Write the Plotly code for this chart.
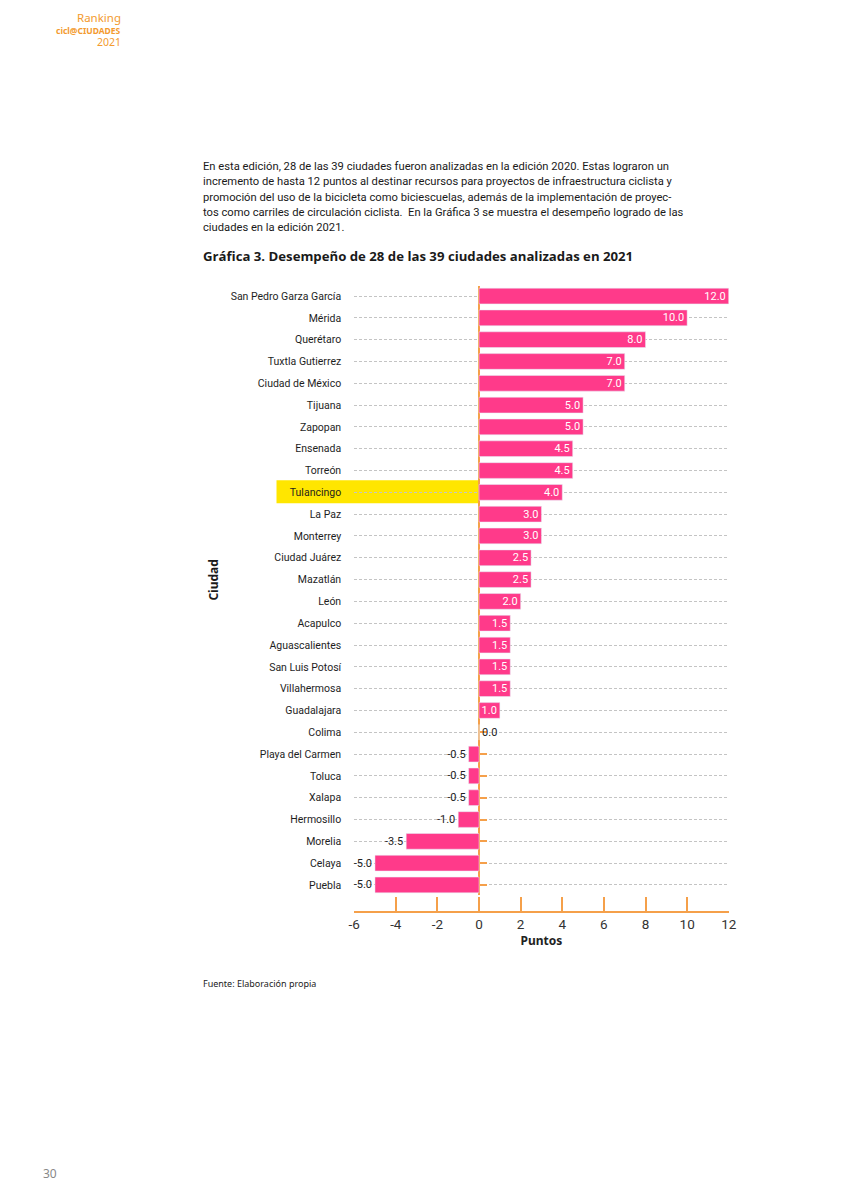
import plotly.graph_objects as go

ciudades = ["San Pedro Garza García", "Mérida", "Querétaro", "Tuxtla Gutierrez",
            "Ciudad de México", "Tijuana", "Zapopan", "Ensenada", "Torreón",
            "Tulancingo", "La Paz", "Monterrey", "Ciudad Juárez", "Mazatlán",
            "León", "Acapulco", "Aguascalientes", "San Luis Potosí", "Villahermosa",
            "Guadalajara", "Colima", "Playa del Carmen", "Toluca", "Xalapa",
            "Hermosillo", "Morelia", "Celaya", "Puebla"]
puntos = [12.0, 10.0, 8.0, 7.0, 7.0, 5.0, 5.0, 4.5, 4.5, 4.0, 3.0, 3.0, 2.5, 2.5,
          2.0, 1.5, 1.5, 1.5, 1.5, 1.0, 0.0, -0.5, -0.5, -0.5, -1.0, -3.5, -5.0, -5.0]
x_ticks = [-6, -4, -2, 0, 2, 4, 6, 8, 10, 12]
x_ticktext = ["-6", "-4", "-2", "0", "2", "4", "6", "8", "10", "12"]

PINK = "#ff3a8a"
ORANGE = "#f5a04a"
OFF = 8               # page body margin
W, H = 848 - 2 * OFF, 1200 - 2 * OFF


def px(x):
    return (x - OFF) / W


def py(y):
    return 1 - (y - OFF) / H


x0d, x1d = px(354), px(735)
ydom = [py(895), py(286)]
zero_pos = x0d + (0 - x_ticks[0]) / (x_ticks[-1] - x_ticks[0]) * (x1d - x0d)

textpos = ["inside" if v > 0 else "outside" for v in puntos]
textcol = ["white" if v > 0 else "#222222" for v in puntos]

fig = go.Figure()
fig.add_trace(go.Bar(
    x=puntos, y=ciudades, orientation="h", marker_color=PINK, width=0.72,
    text=[f"{v:.1f}" for v in puntos], textposition=textpos, constraintext="none",
    insidetextanchor="end", textfont=dict(size=11, color=textcol, family="Roboto, sans-serif"),
    cliponaxis=False, showlegend=False, hoverinfo="skip",
))
# invisible trace for the y axis placed at x = 0 (ticks at each category)
fig.add_trace(go.Scatter(x=[0] * len(ciudades), y=ciudades, yaxis="y2", mode="markers",
                         marker=dict(opacity=0), showlegend=False, hoverinfo="skip"))

fig.update_layout(
    width=W, height=H, margin=dict(l=0, r=0, t=0, b=0),
    paper_bgcolor="white", plot_bgcolor="white",
    font=dict(family="Roboto, sans-serif", color="#222"),
    xaxis=dict(domain=[x0d, x1d], range=[-6, 12], tickvals=x_ticks, ticktext=x_ticktext,
               anchor="free", position=py(912), showgrid=False, zeroline=False,
               showline=True, linecolor=ORANGE, linewidth=2,
               ticks="inside", ticklen=14, tickwidth=2, tickcolor=ORANGE,
               tickfont=dict(size=13.5, color="#333", family="Roboto"),
               title=dict(text="<b>Puntos</b>", font=dict(size=12, color="#222", family="Noto Sans"), standoff=0)),
    yaxis=dict(domain=ydom, range=[27.46, -0.46], type="category",
               showgrid=True, gridcolor="#c4c4c4", griddash="3px,2px", gridwidth=1,
               showline=False, zeroline=False, ticks="", ticklabelstandoff=12,
               tickfont=dict(size=10.5, color="#1e1e1e", family="Roboto")),
    yaxis2=dict(overlaying="y", matches="y", anchor="free", position=zero_pos, side="right",
                showgrid=False, showticklabels=False, showline=True, linecolor=ORANGE, linewidth=2,
                ticks="outside", ticklen=7, tickwidth=2, tickcolor=ORANGE, zeroline=False,
                layer="below traces"),
)

# highlighter mark behind Tulancingo
fig.add_shape(type="rect", xref="paper", yref="y", x0=px(275), x1=zero_pos,
              y0=8.45, y1=9.5, fillcolor="#ffe600", line_width=0, layer="below")

paragraph = [
    "En esta edición, 28 de las 39 ciudades fueron analizadas en la edición 2020. Estas lograron un",
    "incremento de hasta 12 puntos al destinar recursos para proyectos de infraestructura ciclista y",
    "promoción del uso de la bicicleta como biciescuelas, además de la implementación de proyec-",
    "tos como carriles de circulación ciclista.  En la Gráfica 3 se muestra el desempeño logrado de las",
    "ciudades en la edición 2021.",
]
for i, line in enumerate(paragraph):
    fig.add_annotation(x=px(198), y=py(166 + i * 15.5), xref="paper", yref="paper",
                       text=line, showarrow=False, xanchor="left", yanchor="middle",
                       font=dict(size=11.2, color="#1a1a1a", family="Roboto"))

fig.add_annotation(x=px(198), y=py(256), xref="paper", yref="paper",
                   text="<b>Gráfica 3. Desempeño de 28 de las 39 ciudades analizadas en 2021</b>",
                   showarrow=False, xanchor="left", yanchor="middle",
                   font=dict(size=13.2, color="#1a1a1a", family="Open Sans"))

fig.add_annotation(x=px(210), y=py(580), xref="paper", yref="paper", text="<b>Ciudad</b>",
                   textangle=-90, showarrow=False, xanchor="center", yanchor="middle",
                   font=dict(size=12, color="#1a1a1a", family="Noto Sans"))

fig.add_annotation(x=px(198), y=py(983), xref="paper", yref="paper",
                   text="Fuente: Elaboración propia", showarrow=False, xanchor="left", yanchor="middle",
                   font=dict(size=9, color="#222", family="Noto Sans"))

fig.add_annotation(x=px(35), y=py(1173), xref="paper", yref="paper", text="30",
                   showarrow=False, xanchor="left", yanchor="middle",
                   font=dict(size=12, color="#888", family="Noto Sans"))

for txt, yy, sz in [("Ranking", 18, 11.5), ("<b>cicl@CIUDADES</b>", 30.5, 8.5), ("2021", 42, 10.5)]:
    fig.add_annotation(x=px(118), y=py(yy), xref="paper", yref="paper", text=txt,
                       showarrow=False, xanchor="right", yanchor="middle", borderpad=0,
                       font=dict(size=sz, color="#f39a2e", family="Noto Sans"))

fig.write_html("out.html")
